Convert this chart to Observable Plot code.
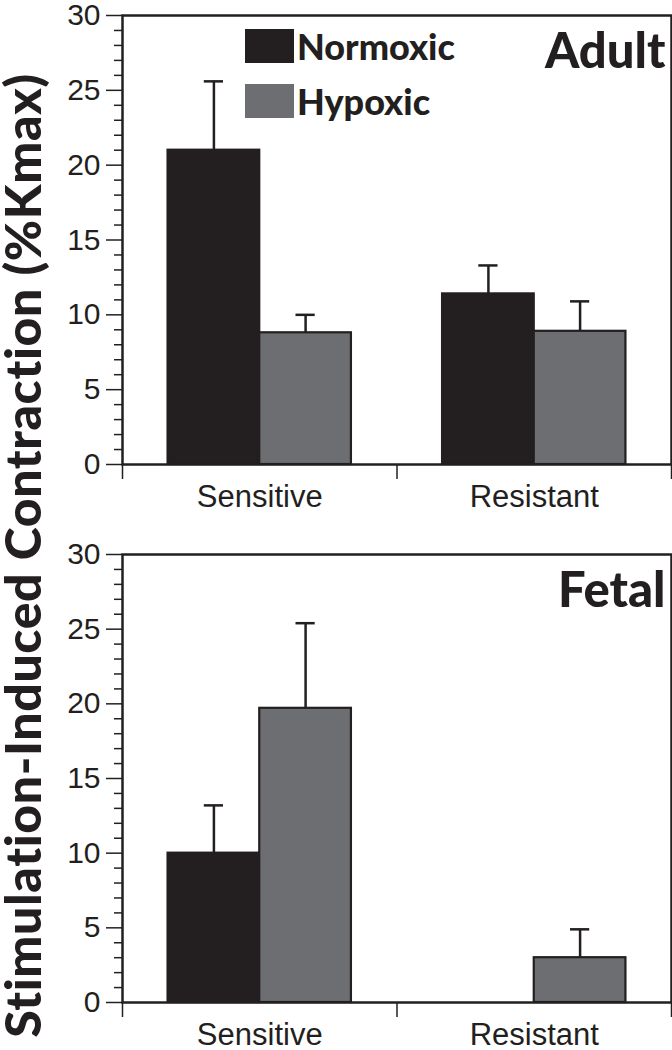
<!DOCTYPE html>
<html><head>
<meta charset="utf-8">
<script src="https://cdn.jsdelivr.net/npm/d3@7"></script>
<script src="https://cdn.jsdelivr.net/npm/@observablehq/plot@0.6"></script>
<style>
body{margin:0;background:#fff;}
#wrap{position:relative;width:672px;height:1050px;background:#fff;}
#wrap svg{position:absolute;left:0;}
#wrap svg.ytitle text{letter-spacing:0.6px;}
.legend{position:absolute;left:245px;top:29px;font-family:Lato,"Open Sans",sans-serif;font-weight:900;font-size:36px;color:#231f20;}
.legend .row{display:flex;align-items:center;height:34px;margin-bottom:21px;}
.legend .sw{width:49px;height:34px;margin-right:3px;}
</style>
</head><body>
<div id="wrap"></div>
<script>
// ---- data ----
const categories = ["Sensitive", "Resistant"];
const conditions = ["Normoxic", "Hypoxic"];
const colors = ["#231f20", "#6d6e71"];
const panelNames = ["Adult", "Fetal"];
// order: Sensitive-Normoxic, Sensitive-Hypoxic, Resistant-Normoxic, Resistant-Hypoxic
const adultMeans = [21.0, 8.8, 11.4, 8.9];
const adultSEM   = [4.6, 1.2, 1.9, 2.0];
const fetalMeans = [10.0, 19.7, 0, 3.0];
const fetalSEM   = [3.2, 5.7, 0, 1.9];
const majorTicks = [0, 5, 10, 15, 20, 25, 30];
const minorTicks = d3.range(0, 31).filter(v => v % 5 !== 0);
const yTitle = "Stimulation-Induced Contraction (%Kmax)";

const BAR = 0.334;   // bar width as fraction of a category slot
const CAP = 0.035;   // half width of error cap
const ink = "#231f20";

function rows(means, sems) {
  return means.map((v, i) => {
    const ci = Math.floor(i / 2), k = i % 2;
    const x1 = ci + 0.5 - BAR + k * BAR;
    return {category: categories[ci], condition: conditions[k], value: v, sem: sems[i],
            x1, x2: x1 + BAR, xc: x1 + BAR / 2, top: v + sems[i]};
  });
}

function panel(name, data, margins) {
  const errs = data.filter(d => d.sem > 0);
  return Plot.plot({
    width: 672,
    height: 525,
    ...margins,
    style: {fontFamily: "'Liberation Sans', Arial, sans-serif", color: ink, background: "transparent", overflow: "visible"},
    x: {domain: [0, 2]},
    y: {domain: [0, 30]},
    color: {domain: conditions, range: colors},
    marks: [
      Plot.ruleX(errs, {x: "xc", y1: "value", y2: "top", stroke: ink, strokeWidth: 2.5}),
      Plot.ruleY(errs, {x1: d => d.xc - CAP, x2: d => d.xc + CAP, y: "top", stroke: ink, strokeWidth: 2.5}),
      Plot.rectY(data, {x1: "x1", x2: "x2", y: "value", fill: "condition", stroke: ink, strokeWidth: 2.2}),
      Plot.axisY({ticks: minorTicks, tickSize: 8, tickFormat: () => "", strokeWidth: 1.5, label: null}),
      Plot.axisY({ticks: majorTicks, tickSize: 16, tickPadding: 6, fontSize: 30, strokeWidth: 1.5, label: null}),
      Plot.axisX({ticks: [0, 1, 2], tickSize: 15, tickFormat: () => "", strokeWidth: 1.5, label: null}),
      Plot.axisX({ticks: categories.map((c, i) => i + 0.5), tickSize: 0, tickPadding: 20, fontSize: 31,
                  tickFormat: d => categories[Math.floor(d)], label: null}),
      Plot.frame({stroke: ink, strokeWidth: 2.5}),
      Plot.text([name], {frameAnchor: "top-right", dx: -6, dy: 18, lineAnchor: "top", fontSize: 49,
                         fontWeight: 900, fontFamily: "Lato, 'Open Sans', sans-serif", fill: ink})
    ]
  });
}

const wrap = document.getElementById("wrap");
const top1 = panel(panelNames[0], rows(adultMeans, adultSEM), {marginTop: 15, marginBottom: 61, marginLeft: 122, marginRight: 1});
top1.style.top = "0px";
wrap.appendChild(top1);
const bot = panel(panelNames[1], rows(fetalMeans, fetalSEM), {marginTop: 29, marginBottom: 48, marginLeft: 122, marginRight: 1});
bot.style.top = "525px";
wrap.appendChild(bot);

// y title as its own narrow SVG
const titleSvg = Plot.plot({
  width: 46, height: 1050, margin: 0,
  style: {background: "transparent", overflow: "visible"},
  marks: [
    Plot.text([yTitle], {frameAnchor: "middle", dx: 1, dy: 30, rotate: -90, fontSize: 50, fontWeight: 900,
                         fontFamily: "Lato, 'Open Sans', sans-serif", fill: ink})
  ]
});
titleSvg.classList.add("ytitle");
titleSvg.style.top = "0px";
wrap.appendChild(titleSvg);

// legend
const lg = document.createElement("div");
lg.className = "legend";
conditions.forEach((c, i) => {
  const r = document.createElement("div"); r.className = "row";
  const s = document.createElement("div"); s.className = "sw"; s.style.background = colors[i];
  const l = document.createElement("span"); l.textContent = c;
  r.appendChild(s); r.appendChild(l); lg.appendChild(r);
});
wrap.appendChild(lg);
</script>
</body></html>
